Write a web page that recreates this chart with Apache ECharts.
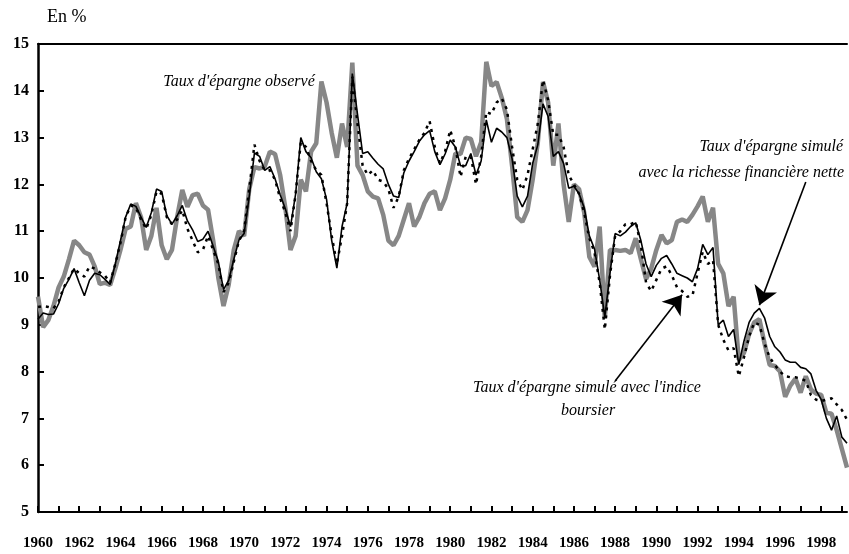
<!DOCTYPE html>
<html lang="fr">
<head>
    <meta charset="UTF-8">
    <title>Taux d'épargne</title>
    <script src="https://cdn.jsdelivr.net/npm/echarts@6/dist/echarts.min.js"></script>
</head>
<style>
    body{
        margin:0;
        background-color:#fff;
    }
    #chart{
        width:849px;
        height:554px;
    }
</style>
<body>
<div id="chart"></div>
</body>
<script>
    // trimestres 1960T1 - 1999T2
    var startYear = 1960;
    var nbQuarters = 158;
    var quarters = [];
    for (var i = 0; i < nbQuarters; i++) {
        quarters.push((startYear + Math.floor(i / 4)) + 'T' + (i % 4 + 1));
    }

    // taux d'épargne observé (trait gris épais)
    var observe = [
        9.6, 8.95, 9.1, 9.4, 9.8, 10.03, 10.4, 10.8, 10.7, 10.55,
        10.5, 10.25, 9.87, 9.9, 9.85, 10.2, 10.6, 11.05, 11.1, 11.6,
        11.3, 10.6, 10.9, 11.5, 10.7, 10.4, 10.6, 11.3, 11.88, 11.52,
        11.77, 11.8, 11.55, 11.46, 10.8, 10.0, 9.4, 9.85, 10.6, 11.0,
        10.9, 11.9, 12.37, 12.34, 12.38, 12.7, 12.65, 12.2, 11.5, 10.6,
        10.9, 12.1, 11.85, 12.7, 12.88, 14.2, 13.75, 13.1, 12.57, 13.3,
        12.8, 14.6, 12.4, 12.2, 11.85, 11.74, 11.7, 11.35, 10.8, 10.7,
        10.9, 11.25, 11.6, 11.1, 11.3, 11.6, 11.8, 11.85, 11.45, 11.7,
        12.1, 12.66, 12.65, 13.0, 12.97, 12.6, 12.9, 14.62, 14.1, 14.19,
        13.85, 13.4, 12.4, 11.3, 11.2, 11.45, 12.1, 12.9, 14.19, 13.75,
        12.4, 13.3, 12.0, 11.2, 12.0, 11.9, 11.4, 10.45, 10.24, 11.1,
        9.15, 10.6, 10.6, 10.58, 10.6, 10.53, 10.85, 10.4, 9.98, 10.2,
        10.6, 10.92, 10.74, 10.81, 11.2, 11.25, 11.2, 11.35, 11.53, 11.74,
        11.2, 11.5, 10.3, 10.1, 9.4, 9.6, 8.25, 8.4, 8.8, 9.05,
        9.12, 8.6, 8.14, 8.12, 8.0, 7.46, 7.7, 7.85, 7.55, 7.9,
        7.62, 7.53, 7.5, 7.12, 7.1, 6.75, 6.35, 5.95
    ];

    // simulé avec la richesse financière nette (trait noir plein)
    var richesse = [
        9.12, 9.25, 9.22, 9.23, 9.45, 9.78, 9.97, 10.2, 9.9, 9.62,
        9.95, 10.1, 10.07, 9.97, 9.86, 10.3, 10.8, 11.3, 11.58, 11.53,
        11.3, 11.08, 11.4, 11.9, 11.85, 11.33, 11.15, 11.33, 11.55, 11.22,
        11.03, 10.78, 10.83, 11.0, 10.68, 10.35, 9.75, 9.95, 10.4, 10.81,
        10.95, 11.75, 12.67, 12.6, 12.3, 12.38, 12.12, 11.78, 11.48, 11.1,
        11.8, 13.0, 12.7, 12.57, 12.27, 12.12, 11.68, 10.8, 10.21, 11.1,
        11.6, 14.37, 13.5, 12.66, 12.7, 12.56, 12.43, 12.33, 12.0, 11.75,
        11.72, 12.25, 12.5, 12.7, 12.92, 13.06, 13.15, 12.7, 12.42, 12.65,
        12.95, 12.8, 12.4, 12.4, 12.66, 12.2, 12.5, 13.38, 12.9, 13.2,
        13.12, 13.0, 12.55, 11.75, 11.52, 11.75, 12.45, 12.85, 13.72, 13.45,
        12.6, 12.7, 12.45, 11.92, 11.96, 11.8, 11.5, 10.9, 10.62, 9.96,
        9.17, 10.1, 10.95, 10.9, 10.98, 11.1, 11.18, 10.8, 10.3, 10.03,
        10.27, 10.42, 10.48, 10.3, 10.1, 10.05, 10.0, 9.92, 10.2, 10.72,
        10.5, 10.65, 9.0, 9.1, 8.75, 8.9, 8.15, 8.65, 9.05, 9.25,
        9.35, 9.15, 8.75, 8.53, 8.42, 8.25, 8.2, 8.2, 8.09, 8.06,
        7.95, 7.6, 7.4, 7.0, 6.75, 7.05, 6.6, 6.47
    ];

    // simulé avec l'indice boursier (pointillés)
    var bourse = [
        9.38, 9.4, 9.38, 9.35, 9.5, 9.8, 10.0, 10.2, 10.1, 10.03,
        10.25, 10.2, 10.12, 10.05, 9.9, 10.3, 10.75, 11.3, 11.55, 11.5,
        11.25, 11.05, 11.35, 11.85, 11.8, 11.3, 11.15, 11.25, 11.45, 11.05,
        10.8, 10.55, 10.6, 10.9, 10.6, 10.3, 9.7, 9.9, 10.35, 10.8,
        11.0, 11.9, 12.85, 12.5, 12.3, 12.3, 12.1, 11.7, 11.4, 11.0,
        11.8, 12.9, 12.8, 12.5, 12.3, 12.2, 11.6, 10.9, 10.3, 10.9,
        11.6, 14.3, 13.3, 12.4, 12.2, 12.3, 12.1, 12.06, 11.9, 11.5,
        11.74, 12.3, 12.55, 12.75, 12.95, 13.1, 13.35, 12.8, 12.45, 12.7,
        13.16, 12.8, 12.16, 12.59, 12.6, 12.0, 12.6, 13.55, 13.5, 13.75,
        13.84, 13.6, 12.8, 12.1, 11.88, 12.2, 12.75, 13.3, 14.23, 13.8,
        13.06, 13.06, 12.8, 12.2, 12.0, 11.8, 11.4, 10.85, 10.55, 9.9,
        8.9, 10.05, 10.9, 11.0, 11.15, 11.15, 11.2, 10.7, 9.9, 9.72,
        9.96, 10.2, 10.25, 10.06, 9.8, 9.72, 9.6, 9.62, 10.1, 10.56,
        10.3, 10.38, 9.0, 8.68, 8.45, 8.5, 7.9, 8.3, 8.75, 9.05,
        9.0, 8.6, 8.3, 8.14, 8.0, 7.9, 7.88, 7.88, 7.85, 7.8,
        7.5, 7.4, 7.37, 7.4, 7.43, 7.3, 7.18, 6.97
    ];

    var serif = 'Liberation Serif';

    var myChart = echarts.init(document.getElementById('chart'));
    myChart.setOption({
        animation:false,
        backgroundColor:'#fff',
        grid:{
            left:38,
            right:2,
            top:44,
            bottom:42
        },
        xAxis:[{
            type:'category',
            data:quarters,
            boundaryGap:false,
            axisLine:{lineStyle:{color:'#000',width:2}},
            axisTick:{
                inside:true,
                length:6,
                lineStyle:{color:'#000',width:2},
                interval:function (idx) { return idx % 4 === 0; }
            },
            axisLabel:{
                interval:function (idx) { return idx % 8 === 0; },
                formatter:function (v) { return v.substring(0, 4); },
                margin:24,
                color:'#000',
                fontFamily:serif,
                fontWeight:'bold',
                fontSize:15
            },
            splitLine:{show:false}
        },{
            // trait du haut du cadre
            type:'value',
            position:'top',
            min:0,
            max:1,
            axisLine:{show:true,lineStyle:{color:'#000',width:2}},
            axisTick:{show:false},
            axisLabel:{show:false},
            splitLine:{show:false}
        }],
        yAxis:{
            type:'value',
            min:5,
            max:15,
            interval:1,
            axisLine:{show:true,lineStyle:{color:'#000',width:2.5}},
            axisTick:{
                show:true,
                inside:true,
                length:6,
                lineStyle:{color:'#000',width:2}
            },
            axisLabel:{
                margin:9,
                color:'#000',
                fontFamily:serif,
                fontWeight:'bold',
                fontSize:16
            },
            splitLine:{show:false}
        },
        series:[{
            name:"Taux d'épargne observé",
            type:'line',
            data:observe,
            symbol:'none',
            lineStyle:{color:'#878787',width:4.5},
            z:2
        },{
            name:"Taux d'épargne simulé avec l'indice boursier",
            type:'line',
            data:bourse,
            symbol:'none',
            lineStyle:{color:'#000',width:2.5,type:[3,5]},
            z:3
        },{
            name:"Taux d'épargne simulé avec la richesse financière nette",
            type:'line',
            data:richesse,
            symbol:'none',
            lineStyle:{color:'#000',width:1.6},
            z:4,
            markLine:{
                silent:true,
                symbol:['none','arrow'],
                symbolSize:18,
                label:{show:false},
                lineStyle:{color:'#000',width:1.6,type:'solid'},
                data:[
                    [{coord:[112, 7.8]}, {coord:[125, 9.64]}],
                    [{coord:[149.4, 12.05], lineStyle:{curveness:0.08}}, {coord:[139.9, 9.42]}]
                ]
            }
        }],
        graphic:[{
            type:'text',
            style:{x:47,y:8,text:'En %',font:'18px ' + serif,fill:'#000'}
        },{
            type:'text',
            style:{x:239,y:74,text:"Taux d'épargne observé",align:'center',
                font:'italic 16px ' + serif,fill:'#000'}
        },{
            type:'text',
            style:{x:843,y:139,text:"Taux d'épargne simulé",align:'right',
                font:'italic 16px ' + serif,fill:'#000'}
        },{
            type:'text',
            style:{x:844,y:165,text:'avec la richesse financière nette',align:'right',
                font:'italic 16px ' + serif,fill:'#000'}
        },{
            type:'text',
            style:{x:587,y:380,text:"Taux d'épargne simulé avec l'indice",align:'center',
                font:'italic 16px ' + serif,fill:'#000'}
        },{
            type:'text',
            style:{x:588,y:403,text:'boursier',align:'center',
                font:'italic 16px ' + serif,fill:'#000'}
        }]
    });
</script>
</html>
